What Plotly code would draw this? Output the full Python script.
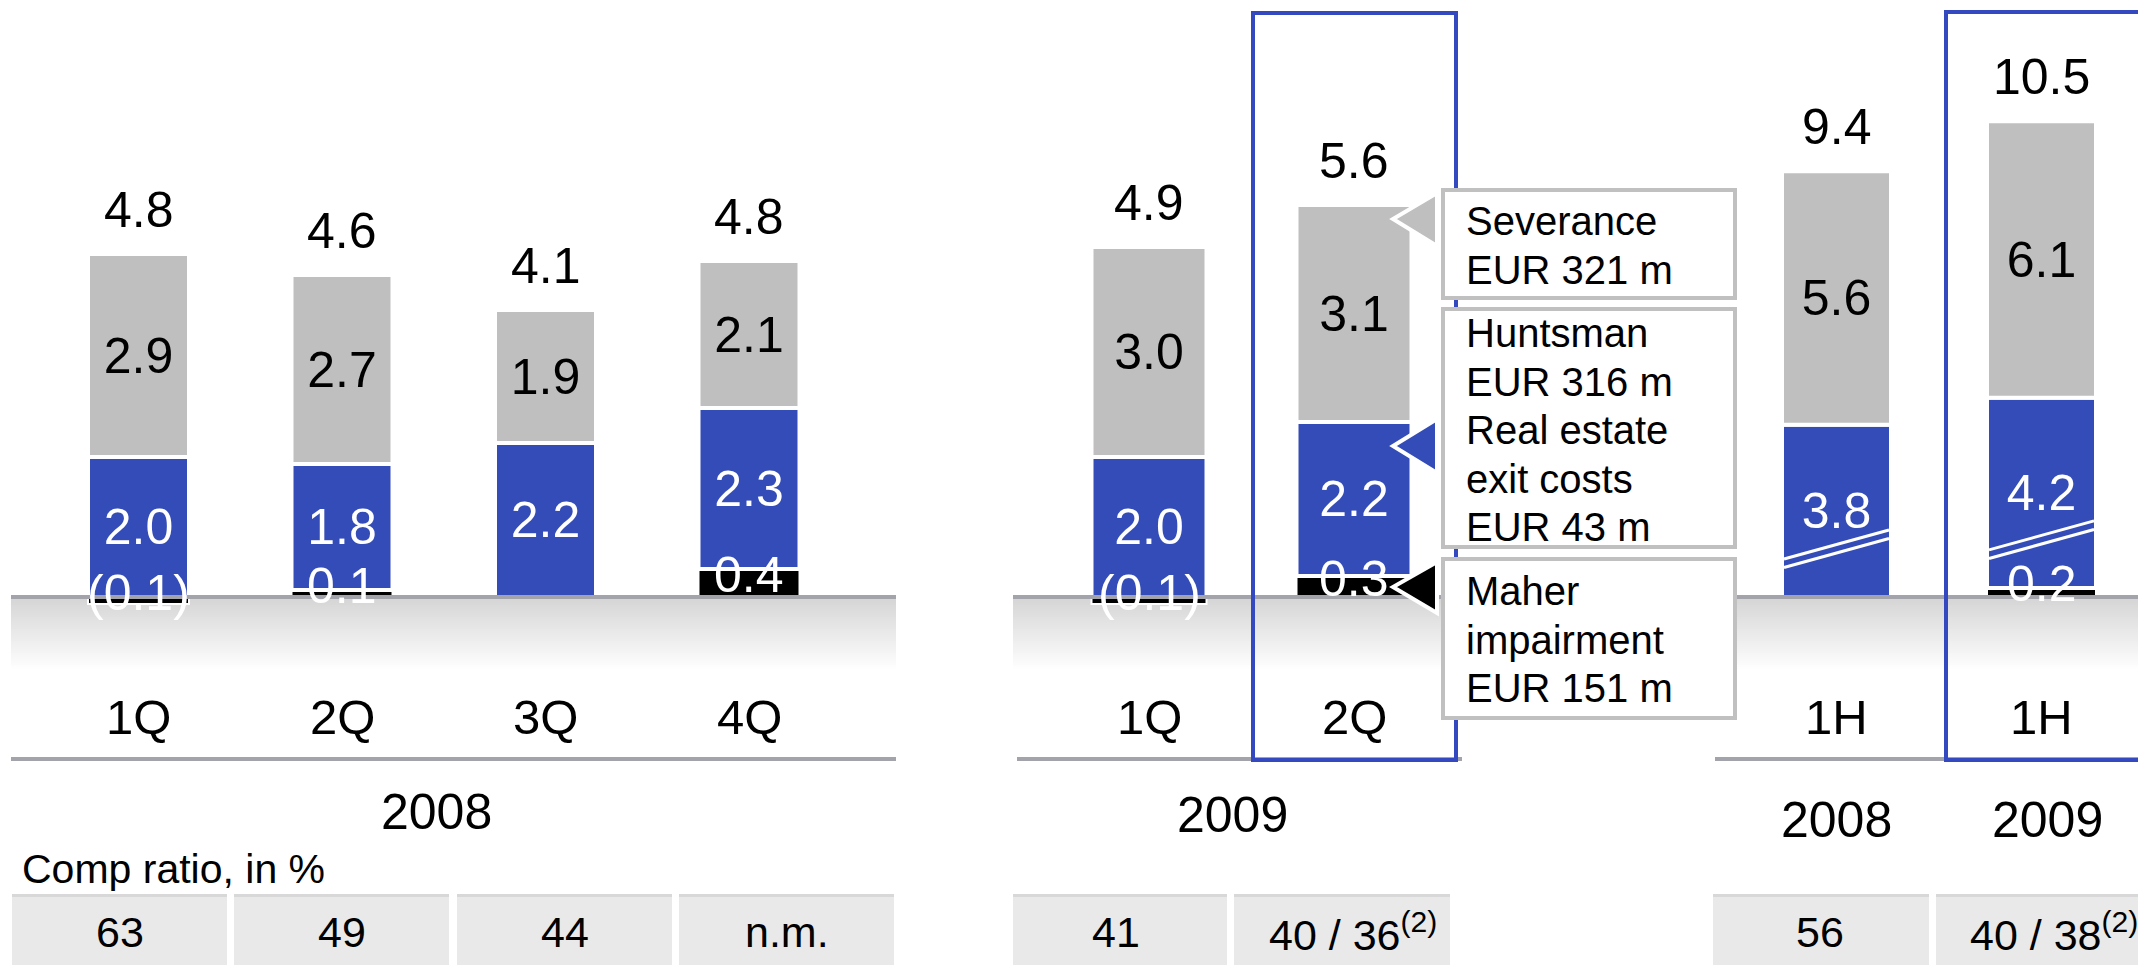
import plotly.graph_objects as go

# ---------------- data (EUR bn) ----------------
quarters_2008 = ["1Q", "2Q", "3Q", "4Q"]
policyholder_2008 = [-0.1, 0.1, 0.0, 0.4]
noncomp_2008 = [2.0, 1.8, 2.2, 2.3]
comp_2008 = [2.9, 2.7, 1.9, 2.1]
total_2008 = [4.8, 4.6, 4.1, 4.8]
ratio_2008 = ["63", "49", "44", "n.m."]

quarters_2009 = ["1Q", "2Q"]
policyholder_2009 = [-0.1, 0.3]
noncomp_2009 = [2.0, 2.2]
comp_2009 = [3.0, 3.1]
total_2009 = [4.9, 5.6]
ratio_2009 = ["41", "40 / 36<sup>(2)</sup>"]

halves = ["1H", "1H"]
half_years = ["2008", "2009"]
policyholder_1h = [0.0, 0.2]
noncomp_1h = [3.8, 4.2]
comp_1h = [5.6, 6.1]
total_1h = [9.4, 10.5]
ratio_1h = ["56", "40 / 38<sup>(2)</sup>"]

section_years = ["2008", "2009"]
ratio_title = "Comp ratio, in %"
callout_lines = [
    ["Severance", "EUR 321 m"],
    ["Huntsman", "EUR 316 m", "Real estate", "exit costs", "EUR 43 m"],
    ["Maher", "impairment", "EUR 151 m"],
]

# ---------------- layout constants ----------------
W, H = 2138, 965
FONT = "Arial, Liberation Sans, sans-serif"
BLUE = "#344CB7"
GRAY = "#BFBFBF"
BLACK = "#000000"
LINE_GRAY = "#A3A3AC"
BOX_GRAY = "#C0C0C0"
ZERO_PX = 597


def X(p):
    return p / W


def Y(p):
    return 1 - p / H


def xrange_for(first_center_px, step_px):
    r0 = -first_center_px / step_px
    return [r0, r0 + W / step_px]


def yrange_for(px_per_unit):
    return [-(H - ZERO_PX) / px_per_unit, ZERO_PX / px_per_unit]


def fmt(v):
    return f"{v:.1f}" if v >= 0 else f"({abs(v):.1f})"


def label(x, y, text, size, xref="paper", yref="paper", color="black", xanchor="center", **kw):
    d = dict(x=x, y=y, xref=xref, yref=yref, text=text, showarrow=False,
             xanchor=xanchor, yanchor="middle",
             font=dict(family=FONT, size=size, color=color))
    d.update(kw)
    return d


fig = go.Figure()
annotations = []
shapes = []

sections = [
    # xaxis, yaxis, cats, black, blue, gray, totals, bar width (axis units)
    ("x", "y", quarters_2008, policyholder_2008, noncomp_2008, comp_2008, total_2008, 101 / 203.5),
    ("x2", "y", quarters_2009, policyholder_2009, noncomp_2009, comp_2009, total_2009, 115 / 205),
    ("x3", "y3", halves, policyholder_1h, noncomp_1h, comp_1h, total_1h, 109 / 205),
]

for xa, ya, cats, blk, blu, gry, tot, bw in sections:
    pos = list(range(len(cats)))
    fig.add_trace(go.Bar(
        x=pos, y=[v if v != 0 else None for v in blk], xaxis=xa, yaxis=ya, width=bw,
        marker=dict(color=BLACK, line=dict(color="white", width=2)),
        name="Policyholder benefits and claims", showlegend=False, hoverinfo="skip"))
    fig.add_trace(go.Bar(
        x=pos, y=blu, xaxis=xa, yaxis=ya, width=bw,
        marker=dict(color=BLUE, line=dict(color="white", width=4)),
        text=[fmt(v) for v in blu], textposition="inside", insidetextanchor="middle",
        textangle=0, constraintext="none",
        insidetextfont=dict(family=FONT, size=50, color="white"),
        name="Non-compensation expenses", showlegend=False, hoverinfo="skip"))
    fig.add_trace(go.Bar(
        x=pos, y=gry, xaxis=xa, yaxis=ya, width=bw,
        marker=dict(color=GRAY, line=dict(color="white", width=4)),
        text=[fmt(v) for v in gry], textposition="inside", insidetextanchor="middle",
        textangle=0, constraintext="none",
        insidetextfont=dict(family=FONT, size=50, color="black"),
        name="Compensation and benefits", showlegend=False, hoverinfo="skip"))
    for i in pos:
        top = max(blk[i], 0) + blu[i] + gry[i]
        annotations.append(label(i, top, fmt(tot[i]), 50, xref=xa, yref=ya, yshift=44))
        if blk[i] != 0:
            annotations.append(label(i, blk[i] / 2, fmt(blk[i]), 50, xref=xa, yref=ya,
                                     color="white", yshift=8))
        annotations.append(label(i, Y(717), cats[i], 49, xref=xa))

# break marks in the half-year blue segments
for i in range(len(halves)):
    base = max(policyholder_1h[i], 0)
    hw = 105 / 205 / 2
    for off in (0.0, -0.19):
        shapes.append(dict(type="line", xref="x3", yref="y3", layer="above",
                           x0=i - hw, x1=i + hw, y0=base + 0.84 + off, y1=base + 1.48 + off,
                           line=dict(color="white", width=3)))

# year labels
annotations.append(label(X(436), Y(812), section_years[0], 50))
annotations.append(label(X(1232), Y(815), section_years[1], 50))
for i, yr in enumerate(half_years):
    annotations.append(label(i, Y(820), yr, 50, xref="x3", xshift=6 * i))

# gradient bands under baseline
band_x = [(11, 896), (1013, 1462), (1713, 2145)]
n_strips = 36
for k in range(n_strips):
    c = int(round(214 + (255 - 214) * k / (n_strips - 1)))
    y0 = 599 + 2 * k
    for xa0, xa1 in band_x:
        shapes.append(dict(type="rect", xref="paper", yref="paper", layer="below",
                           x0=X(xa0), x1=X(xa1), y0=Y(y0), y1=Y(y0 + 2.3),
                           fillcolor=f"rgb({c},{c},{c})", line=dict(width=0)))

# comp ratio cells
cells = [(12, 227), (234, 449), (457, 672), (679, 894), (1013, 1227), (1234, 1450), (1713, 1929), (1936, 2145)]
for c0, c1 in cells:
    shapes.append(dict(type="rect", xref="paper", yref="paper", layer="below",
                       x0=X(c0), x1=X(c1), y0=Y(975), y1=Y(894),
                       fillcolor="#E9E9E9", line=dict(width=0)))
    shapes.append(dict(type="rect", xref="paper", yref="paper", layer="below",
                       x0=X(c0), x1=X(c1), y0=Y(897), y1=Y(894),
                       fillcolor="#D8D8D8", line=dict(width=0)))
ratio_centers = [119.5, 341.5, 564.5, 786.5, 1116, 1353, 1820, 2054]
for txt, cx in zip(ratio_2008 + ratio_2009 + ratio_1h, ratio_centers):
    annotations.append(label(X(cx), Y(932), txt, 43))
annotations.append(label(X(20), Y(869), ratio_title, 41, xanchor="left"))

# baselines and bottom lines
for xa0, xa1 in band_x:
    shapes.append(dict(type="line", xref="paper", yref="paper", layer="above",
                       x0=X(xa0), x1=X(xa1), y0=Y(597), y1=Y(597),
                       line=dict(color=LINE_GRAY, width=4)))
for xa0, xa1 in [(11, 896), (1017, 1462), (1715, 2145)]:
    shapes.append(dict(type="line", xref="paper", yref="paper", layer="above",
                       x0=X(xa0), x1=X(xa1), y0=Y(759), y1=Y(759),
                       line=dict(color=LINE_GRAY, width=4)))

# highlight boxes
for b0, b1, t in [(1253, 1456, 13), (1946, 2150, 12)]:
    shapes.append(dict(type="rect", xref="paper", yref="paper", layer="above",
                       x0=X(b0), x1=X(b1), y0=Y(760), y1=Y(t),
                       line=dict(color="#3448C0", width=4), fillcolor="rgba(0,0,0,0)"))

# callout boxes
callout_boxes = [(190, 298), (309, 547), (559, 718)]
callout_first_center = [221, 333, 591]
for (t, b), lines, c0 in zip(callout_boxes, callout_lines, callout_first_center):
    shapes.append(dict(type="rect", xref="paper", yref="paper", layer="above",
                       x0=X(1443), x1=X(1735), y0=Y(b), y1=Y(t),
                       line=dict(color=BOX_GRAY, width=4), fillcolor="white"))
    for j, ln in enumerate(lines):
        annotations.append(label(X(1464), Y(c0 + 48.5 * j), ln, 40, xanchor="left"))

# callout pointers
for (top, apex, bot), col in [((193, 219, 246), GRAY), ((419, 446, 473), BLUE), ((562, 587, 613), BLACK)]:
    path = (f"M {X(1437)},{Y(top)} L {X(1393)},{Y(apex)} L {X(1437)},{Y(bot)} Z")
    shapes.append(dict(type="path", xref="paper", yref="paper", layer="above", path=path,
                       fillcolor=col, line=dict(color="white", width=4)))

fig.update_layout(
    width=W, height=H,
    margin=dict(l=0, r=0, t=0, b=0, pad=0),
    paper_bgcolor="white", plot_bgcolor="rgba(0,0,0,0)",
    barmode="relative", showlegend=False, hovermode=False,
    font=dict(family=FONT),
    xaxis=dict(domain=[0, 1], range=xrange_for(138.5, 203.5), visible=False, fixedrange=True, anchor="y"),
    xaxis2=dict(domain=[0, 1], range=xrange_for(1149, 205), visible=False, fixedrange=True,
                overlaying="x", anchor="y"),
    xaxis3=dict(domain=[0, 1], range=xrange_for(1836.5, 205), visible=False, fixedrange=True,
                overlaying="x", anchor="y3"),
    yaxis=dict(domain=[0, 1], range=yrange_for(70), visible=False, fixedrange=True, anchor="x"),
    yaxis3=dict(domain=[0, 1], range=yrange_for(45.3), visible=False, fixedrange=True,
                overlaying="y", anchor="x3"),
    shapes=shapes,
    annotations=annotations,
)

fig.write_html("out.html", config={"displayModeBar": False},
               post_script="document.body.style.margin='0';document.documentElement.style.overflow='hidden';")
